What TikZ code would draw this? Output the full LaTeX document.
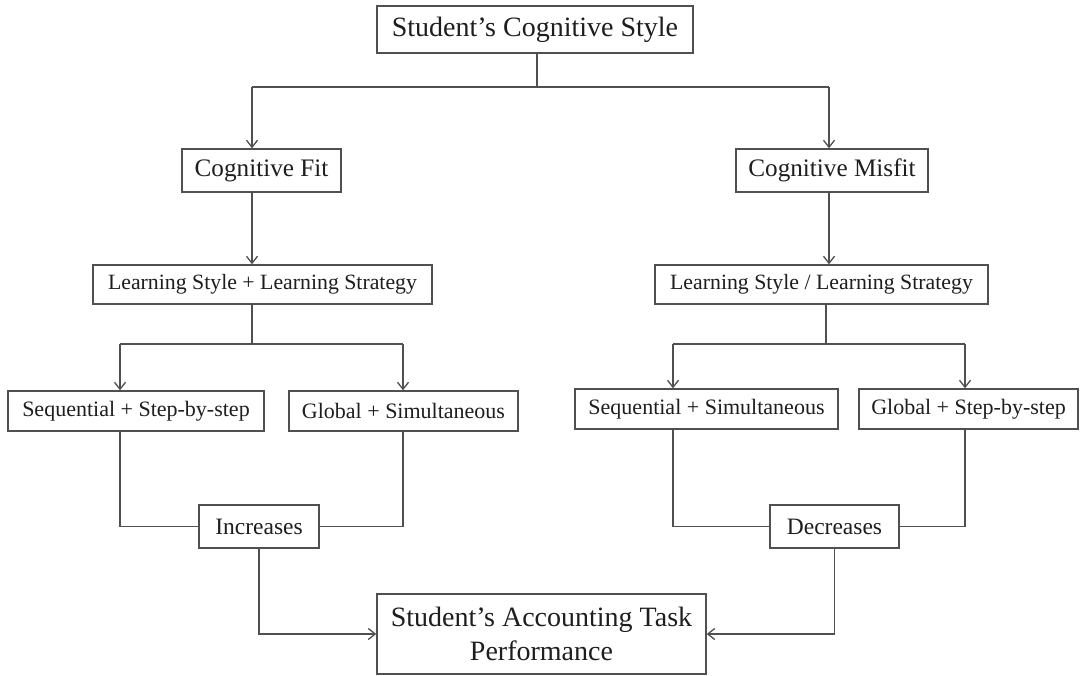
\documentclass[tikz,border=0pt]{standalone}
\usepackage{fontspec}
\setmainfont{Liberation Serif}
\usetikzlibrary{arrows.meta}
\definecolor{linegray}{HTML}{505050}
\definecolor{txt}{HTML}{1E1E1E}
\tikzset{
  box/.style={draw=linegray, line width=1.4pt, inner sep=0pt, text=txt, anchor=center, align=center},
  conn/.style={draw=linegray, line width=1.4pt},
  arr/.style={conn, -{Straight Barb[length=7pt,width=11pt,line width=1.3pt]}},
  big/.style={font=\fontsize{28}{34}\selectfont},
  mid/.style={font=\fontsize{25.2}{29}\selectfont},
  small/.style={font=\fontsize{21.8}{26}\selectfont},
  sub/.style={font=\fontsize{22}{26}\selectfont},
  res/.style={font=\fontsize{23.5}{27}\selectfont}
}
\begin{document}
\begin{tikzpicture}[x=1pt,y=-1pt]
\useasboundingbox[fill=white] (0,0) rectangle (1083,676);
% nodes
\node[box,big,minimum width=316pt,minimum height=47pt] (T) at (535,29.5) {Student’s Cognitive Style};
\node[box,mid,minimum width=159pt,minimum height=43pt] (F) at (261.5,170.5) {Cognitive Fit};
\node[box,mid,minimum width=192pt,minimum height=43pt] (M) at (832,170.5) {Cognitive Misfit};
\node[box,small,minimum width=339pt,minimum height=39pt] (L1) at (262.5,284.5) {Learning Style + Learning Strategy};
\node[box,small,minimum width=333pt,minimum height=39pt] (L2) at (821.5,284.5) {Learning Style / Learning Strategy};
\node[box,sub,minimum width=256pt,minimum height=40pt] (SS) at (136,411) {Sequential + Step-by-step};
\node[box,sub,minimum width=229pt,minimum height=40pt] (GS) at (403.5,411) {Global + Simultaneous};
\node[box,sub,minimum width=263pt,minimum height=40pt] (SQ) at (706.5,409) {Sequential + Simultaneous};
\node[box,sub,minimum width=219pt,minimum height=40pt] (GT) at (968.5,409) {Global + Step-by-step};
\node[box,res,minimum width=120pt,minimum height=43pt] (Inc) at (259,526.5) {Increases};
\node[box,res,minimum width=129pt,minimum height=43pt] (Dec) at (834.5,526.5) {Decreases};
\node[box,big,minimum width=329pt,minimum height=80pt] (Acc) at (541.5,634) {Student’s Accounting Task\\Performance};
% junction coordinates
\coordinate (j0) at (537,87);
\coordinate (jL) at (252,87);
\coordinate (jR) at (829,87);
\coordinate (k1) at (252,344);
\coordinate (k1a) at (120,344);
\coordinate (k1b) at (403,344);
\coordinate (k2) at (826,344);
\coordinate (k2a) at (673,344);
\coordinate (k2b) at (965,344);
% connectors
\draw[conn] (T.south -| j0) -- (j0);
\draw[conn] (jL) -- (jR);
\draw[arr] (jL) -- (F.north -| jL);
\draw[arr] (jR) -- (M.north -| jR);
\draw[arr] (F.south -| jL) -- (L1.north -| jL);
\draw[arr] (M.south -| jR) -- (L2.north -| jR);
\draw[conn] (L1.south -| k1) -- (k1);
\draw[conn] (k1a) -- (k1b);
\draw[arr] (k1a) -- (SS.north -| k1a);
\draw[arr] (k1b) -- (GS.north -| k1b);
\draw[conn] (L2.south -| k2) -- (k2);
\draw[conn] (k2a) -- (k2b);
\draw[arr] (k2a) -- (SQ.north -| k2a);
\draw[arr] (k2b) -- (GT.north -| k2b);
\draw[conn] (SS.south -| k1a) |- (Inc.west);
\draw[conn] (GS.south -| k1b) |- (Inc.east);
\draw[conn] (SQ.south -| k2a) |- (Dec.west);
\draw[conn] (GT.south -| k2b) |- (Dec.east);
\draw[arr] (Inc.south) |- (Acc.west);
\draw[arr] (Dec.south) |- (Acc.east);
\end{tikzpicture}
\end{document}
